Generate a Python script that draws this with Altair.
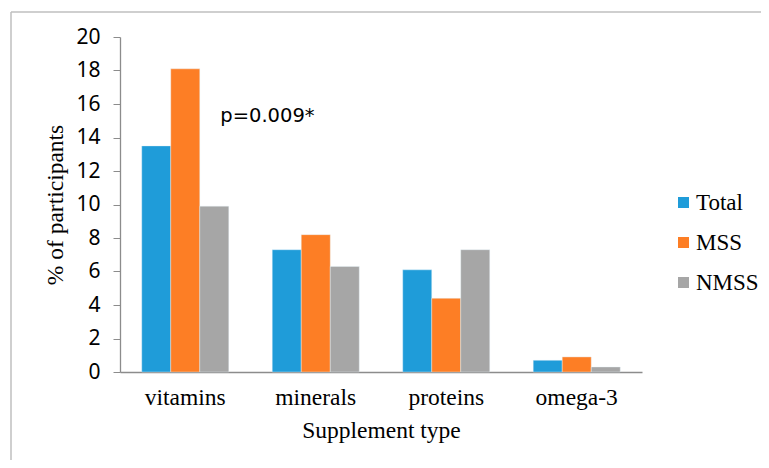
import altair as alt
import pandas as pd

categories = ["vitamins", "minerals", "proteins", "omega-3"]
groups = ["Total", "MSS", "NMSS"]
total_vals = [13.5, 7.3, 6.1, 0.7]
mss_vals = [18.1, 8.2, 4.4, 0.9]
nmss_vals = [9.9, 6.3, 7.3, 0.3]
colors = ["#1f9cd9", "#fd7e25", "#a6a6a6"]
y_ticks = [0, 2, 4, 6, 8, 10, 12, 14, 16, 18, 20]
annotation_text = ["p=0.009*"]
annotation_cat = ["vitamins"]
annotation_y = [15.3]

rows = []
for g, vals in zip(groups, [total_vals, mss_vals, nmss_vals]):
    for c, v in zip(categories, vals):
        rows.append({"Supplement type": c, "group": g, "value": v})
df = pd.DataFrame(rows)
ann = pd.DataFrame({"Supplement type": annotation_cat, "value": annotation_y, "label": annotation_text})

W, H = 522, 335

x_scale = alt.Scale(domain=categories, paddingInner=0.333, paddingOuter=0.1667)
y_scale = alt.Scale(domain=[0, 20], nice=False)

x_axis = alt.Axis(title="Supplement type", labelAngle=0, ticks=False,
                  labelFont="Liberation Serif", labelFontSize=23.5, labelColor="black",
                  labelPadding=13, titleFont="Liberation Serif", titleFontSize=23.5,
                  titleFontWeight="normal", titleColor="black", titlePadding=10,
                  domainColor="#8c8c8c", domainWidth=1.3)
y_axis = alt.Axis(title="% of participants", values=y_ticks, grid=False, labelOverlap=False,
                  tickSize=7, tickColor="#8c8c8c", domainColor="#8c8c8c", domainWidth=1.3,
                  labelFont="Noto Sans", labelFontSize=21, labelColor="black",
                  labelPadding=13, titleFont="Liberation Serif", titleFontSize=23.5,
                  titleFontWeight="normal", titleColor="black", titlePadding=8)

bars = alt.Chart(df).mark_bar(stroke="#e8f4fb", strokeWidth=0.4).encode(
    x=alt.X("Supplement type:N", scale=x_scale, axis=x_axis),
    xOffset=alt.XOffset("group:N", sort=groups, scale=alt.Scale(domain=groups, paddingInner=0, paddingOuter=0)),
    y=alt.Y("value:Q", scale=y_scale, axis=y_axis),
    color=alt.Color("group:N",
                    scale=alt.Scale(domain=groups, range=colors),
                    legend=alt.Legend(title=None, orient="none", legendX=552, legendY=154, padding=0,
                                      symbolType="square", symbolSize=121, symbolStrokeWidth=0,
                                      labelFont="Liberation Serif", labelFontSize=23,
                                      labelColor="black", rowPadding=16, labelOffset=1,
                                      labelLimit=200)),
)

text = alt.Chart(ann).mark_text(align="left", baseline="middle", dx=35,
                                font="DejaVu Sans", fontSize=19.5, color="black").encode(
    x=alt.X("Supplement type:N", scale=x_scale, axis=x_axis),
    y=alt.Y("value:Q", scale=y_scale, axis=y_axis),
    text="label:N",
)

frame_top = alt.Chart(ann).mark_rule(color="#bfbfbf", strokeWidth=1.5).encode(
    x=alt.value(-109), x2=alt.value(700), y=alt.value(-25))
frame_left = alt.Chart(ann).mark_rule(color="#bfbfbf", strokeWidth=1.5).encode(
    x=alt.value(-109), y=alt.value(-25), y2=alt.value(500))

chart = alt.layer(frame_top, frame_left, bars, text).properties(
    width=W, height=H,
    background="white",
    autosize=alt.AutoSizeParams(type="none"),
    padding={"left": 112, "top": 29, "right": 119, "bottom": 88},
).configure_view(stroke=None).configure_legend(labelFont="Liberation Serif")

chart.save("out.html", embed_options={"renderer": "svg", "actions": False})
